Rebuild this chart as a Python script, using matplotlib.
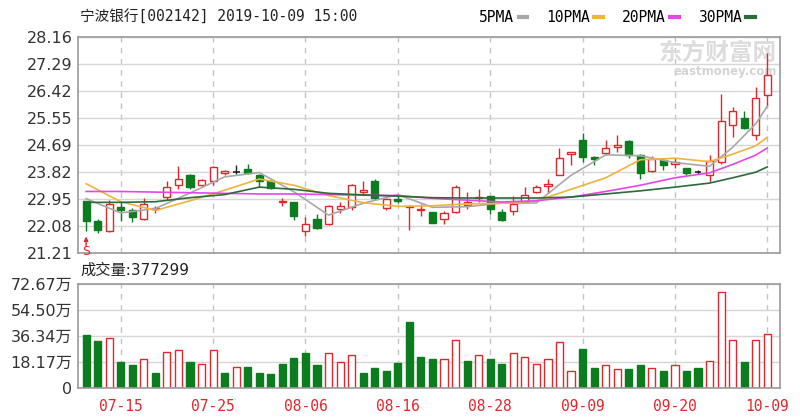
import numpy as np
import matplotlib
matplotlib.use('Agg')
import matplotlib.pyplot as plt
from matplotlib.lines import Line2D

plt.rcParams['font.family'] = ['DejaVu Sans', 'Noto Sans CJK SC']

# 宁波银行 002142 daily, 2019-07-10 .. 2019-10-09
dates = ['07-10', '07-11', '07-12', '07-15', '07-16', '07-17', '07-18', '07-19', '07-22', '07-23',
         '07-24', '07-25', '07-26', '07-29', '07-30', '07-31', '08-01', '08-02', '08-05', '08-06',
         '08-07', '08-08', '08-09', '08-12', '08-13', '08-14', '08-15', '08-16', '08-19', '08-20',
         '08-21', '08-22', '08-23', '08-26', '08-27', '08-28', '08-29', '08-30', '09-02', '09-03',
         '09-04', '09-05', '09-06', '09-09', '09-10', '09-11', '09-12', '09-16', '09-17', '09-18',
         '09-19', '09-20', '09-23', '09-24', '09-25', '09-26', '09-27', '09-30', '10-08', '10-09']

opens = [22.86, 22.22, 21.91, 22.67, 22.59, 22.29, 22.62, 22.99, 23.38, 23.70,
         23.38, 23.51, 23.79, 23.82, 23.89, 23.72, 23.51, 22.83, 22.83, 21.91,
         22.29, 22.12, 22.62, 22.67, 23.15, 23.51, 22.64, 22.95, 22.68, 22.58,
         22.51, 22.31, 22.51, 22.73, 22.96, 23.03, 22.52, 22.56, 22.85, 23.16,
         23.36, 23.72, 24.38, 24.84, 24.30, 24.41, 24.60, 24.81, 24.36, 23.83,
         24.19, 24.08, 23.92, 23.81, 23.72, 24.14, 25.32, 25.55, 25.00, 26.28]
highs = [22.87, 22.29, 22.92, 22.83, 22.64, 22.96, 22.72, 23.51, 24.01, 23.73,
         23.59, 24.01, 23.87, 24.03, 24.05, 23.75, 23.54, 22.96, 22.85, 22.37,
         22.45, 22.74, 22.83, 23.43, 23.51, 23.57, 22.96, 23.05, 22.74, 22.78,
         22.53, 22.56, 23.38, 23.16, 23.27, 23.05, 22.61, 23.05, 23.32, 23.38,
         23.59, 24.59, 24.46, 25.06, 24.32, 24.84, 25.01, 24.84, 24.40, 24.33,
         24.26, 24.25, 23.95, 23.87, 24.36, 26.31, 25.90, 25.77, 26.55, 27.62]
lows = [21.91, 21.85, 21.88, 22.23, 22.20, 22.27, 22.50, 22.92, 23.27, 23.27,
        23.35, 23.38, 23.72, 23.75, 23.75, 23.32, 23.27, 22.72, 22.27, 21.75,
        21.98, 22.09, 22.48, 22.59, 23.10, 22.92, 22.60, 22.80, 21.94, 22.40,
        22.15, 22.12, 22.49, 22.61, 22.83, 22.45, 22.23, 22.42, 22.84, 23.12,
        23.14, 23.70, 24.03, 24.14, 24.03, 24.36, 24.46, 24.25, 23.59, 23.81,
        23.87, 23.92, 23.70, 23.75, 23.48, 24.08, 24.92, 25.20, 24.84, 25.93]
closes = [22.24, 21.95, 22.78, 22.57, 22.35, 22.78, 22.66, 23.32, 23.57, 23.32,
          23.54, 23.97, 23.84, 23.82, 23.79, 23.51, 23.29, 22.88, 22.40, 22.12,
          22.02, 22.70, 22.70, 23.38, 23.22, 22.96, 22.95, 22.88, 22.72, 22.62,
          22.18, 22.48, 23.32, 22.83, 23.00, 22.61, 22.27, 22.78, 23.07, 23.32,
          23.42, 24.25, 24.45, 24.30, 24.24, 24.57, 24.68, 24.36, 23.79, 24.23,
          24.03, 24.14, 23.79, 23.81, 24.16, 25.46, 25.77, 25.22, 26.20, 26.93]

# volume in 万 shares, and whether the bar is drawn as an "up" (red) bar
volumes = [37.0, 33.0, 35.1, 17.8, 16.0, 20.0, 10.6, 25.1, 26.5, 17.8,
           16.7, 26.5, 10.6, 14.8, 14.8, 10.6, 9.6, 16.7, 21.1, 24.2,
           16.0, 24.2, 17.8, 23.0, 10.6, 13.6, 11.7, 17.0, 46.4, 21.8,
           20.0, 20.0, 33.5, 19.0, 23.0, 20.0, 16.7, 24.2, 21.8, 16.7,
           20.0, 32.3, 11.7, 27.4, 13.6, 15.7, 12.9, 12.9, 15.7, 13.6,
           11.7, 15.7, 11.7, 13.6, 18.8, 67.5, 33.5, 17.8, 33.5, 37.73]
vol_up = [0, 0, 1, 0, 0, 1, 0, 1, 1, 0,
          1, 1, 0, 1, 0, 0, 0, 0, 0, 0,
          0, 1, 1, 1, 0, 0, 0, 0, 0, 0,
          0, 1, 1, 0, 1, 0, 0, 1, 1, 1,
          1, 1, 1, 0, 0, 1, 1, 0, 0, 1,
          0, 1, 0, 0, 1, 1, 1, 0, 1, 1]

# moving averages at these candle positions
ma_idx = [0, 3, 6, 9, 12, 15, 18, 21, 24, 27, 30, 33, 36, 39, 42, 45, 48, 51, 54, 56, 58, 59]
ma5 = [22.95, 22.49, 22.63, 23.13, 23.65, 23.79, 23.17, 22.42, 22.80, 23.08, 22.67,
       22.69, 22.81, 22.81, 23.70, 24.36, 24.33, 24.11, 23.99, 24.60, 25.36, 25.92]
ma10 = [23.43, 22.85, 22.57, 22.88, 23.22, 23.58, 23.38, 23.05, 22.82, 22.70, 22.72,
        22.78, 22.80, 22.88, 23.25, 23.62, 24.20, 24.25, 24.14, 24.38, 24.65, 24.92]
ma20 = [23.18, 23.18, 23.16, 23.14, 23.12, 23.10, 23.10, 23.08, 23.06, 23.05, 22.96,
        22.90, 22.84, 22.88, 23.00, 23.18, 23.38, 23.62, 23.78, 24.05, 24.35, 24.58]
ma30 = [22.83, 22.83, 22.85, 22.98, 23.08, 23.32, 23.25, 23.12, 23.07, 23.03, 22.98,
        22.97, 22.97, 22.97, 23.00, 23.10, 23.20, 23.32, 23.45, 23.62, 23.80, 23.97]

price_ticks = ['21.21', '22.08', '22.95', '23.82', '24.69', '25.55', '26.42', '27.29', '28.16']
vol_ticks = ['0', '18.17', '36.34', '54.50', '72.67']
date_ticks = ['07-15', '07-25', '08-06', '08-16', '08-28', '09-09', '09-20', '10-09']

RED = '#e3262c'
GREEN = '#0c7d1e'

fig = plt.figure(figsize=(8, 4.17), dpi=100)
ax = fig.add_axes([0.0975, 0.394, 0.8775, 0.518])
axv = fig.add_axes([0.0975, 0.0703, 0.8775, 0.248])

x = np.arange(len(dates))
o = np.array(opens)
c = np.array(closes)
tick_pos = [dates.index(d) for d in date_ticks]

# candles
for i in x:
    up = c[i] >= o[i]
    col = RED if up else GREEN
    if o[i] == c[i]:
        col = '#222222'
    ax.vlines(i, lows[i], highs[i], color=col, lw=1, zorder=2)
    if o[i] == c[i]:
        ax.hlines(o[i], i - 0.3, i + 0.3, color=col, lw=1.2, zorder=3)
    elif up:
        ax.bar(i, c[i] - o[i], bottom=o[i], width=0.62, facecolor='white',
               edgecolor=col, lw=1, zorder=3)
    else:
        ax.bar(i, o[i] - c[i], bottom=c[i], width=0.62, facecolor=col,
               edgecolor=col, lw=1, zorder=3)

ma_cols = ['#a8a8a8', '#f0b43c', '#e646e6', '#2a6b3a']
for vals, col in zip([ma5, ma10, ma20, ma30], ma_cols):
    ax.plot(ma_idx, vals, color=col, lw=1.2, zorder=4)

# sell mark under the first candle
ax.annotate('', xy=(0, lows[0]), xytext=(0, -11), textcoords='offset points',
            arrowprops=dict(arrowstyle='-|>', color=RED, lw=1, mutation_scale=6,
                            shrinkA=0, shrinkB=4))
ax.annotate('S', xy=(0, lows[0]), xytext=(0, -15), textcoords='offset points',
            ha='center', va='center', color=RED, fontsize=9)

# volume
for i in x:
    if vol_up[i]:
        axv.bar(i, volumes[i], width=0.62, facecolor='white', edgecolor=RED, lw=1)
    else:
        axv.bar(i, volumes[i], width=0.62, facecolor=GREEN, edgecolor=GREEN, lw=1)

for a in (ax, axv):
    a.set_xlim(-0.7, 60.1)
    a.set_xticks(tick_pos)
    a.grid(True, axis='x', color='#c4c4c4', linestyle=(0, (4, 4)), lw=1)
    a.grid(True, axis='y', color='#d6d6d6', linestyle='-', lw=1)
    a.set_axisbelow(True)
    a.tick_params(length=0, labelsize=11.5, colors='#333333', pad=4)
    for s in a.spines.values():
        s.set_color('#9a9a9a')
        s.set_linewidth(1.2)

ax.set_ylim(float(price_ticks[0]), float(price_ticks[-1]))
ax.set_yticks([float(t) for t in price_ticks])
ax.set_yticklabels(price_ticks)
ax.set_xticklabels([])

axv.set_ylim(0, float(vol_ticks[-1]))
axv.set_yticks([float(t) for t in vol_ticks])
axv.set_yticklabels([t if t == '0' else t + '万' for t in vol_ticks])
axv.set_xticklabels(date_ticks, family=['DejaVu Sans Mono'], fontsize=10.5, color=RED)
axv.tick_params(axis='x', pad=8, colors=RED)

# header texts
fig.text(0.1, 0.958, '宁波银行[002142] 2019-10-09 15:00', family=['DejaVu Sans Mono', 'Noto Sans CJK SC'],
         fontsize=10.5, color='#222222', va='center')
fig.text(0.1, 0.352, '成交量:377299', fontsize=11, color='#222222', va='center')

handles = [Line2D([], [], color=col, lw=3) for col in ma_cols]
fig.legend(handles, ['5PMA', '10PMA', '20PMA', '30PMA'], loc='center right',
           bbox_to_anchor=(0.96, 0.958), ncol=4, frameon=False, markerfirst=False,
           handlelength=0.6, handletextpad=0.3, columnspacing=1.3,
           prop={'family': 'DejaVu Sans Mono', 'size': 10.5})

# watermark
ax.text(0.995, 0.925, '东方财富网', transform=ax.transAxes, ha='right', va='center',
        fontsize=17, fontweight='bold', color='#dcdcdc', family=['Noto Sans CJK SC'], zorder=1)
ax.text(0.995, 0.84, 'eastmoney.com', transform=ax.transAxes, ha='right', va='center',
        fontsize=8.5, fontweight='bold', color='#d4d4d4', zorder=1)

fig.savefig('out.png', dpi=100)
